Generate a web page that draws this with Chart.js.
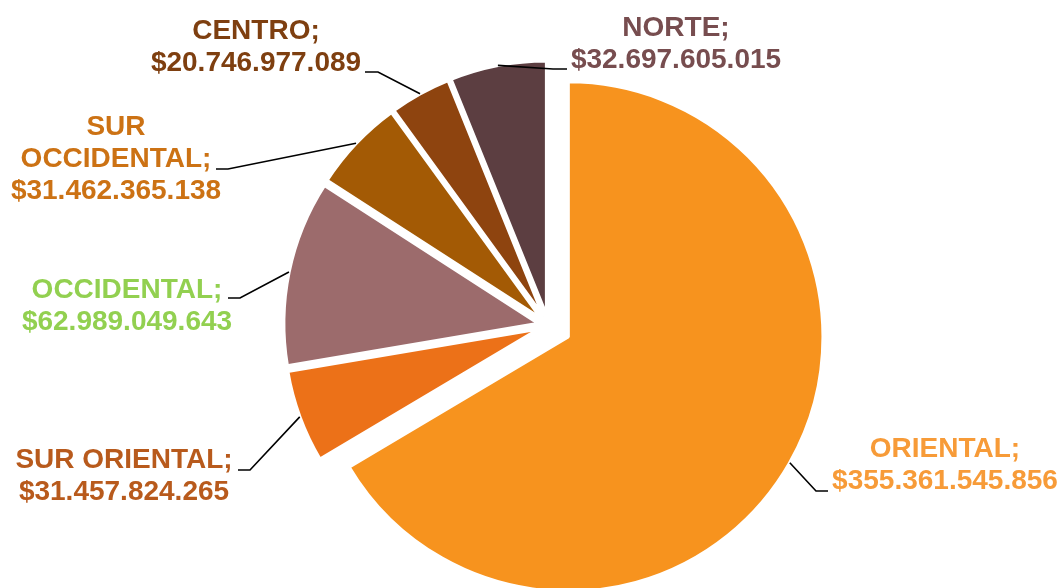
<!DOCTYPE html>
<html>
<head>
<meta charset="utf-8">
<script src="https://cdn.jsdelivr.net/npm/chart.js@4"></script>
<style>
  html, body { margin: 0; padding: 0; background: #fff; overflow: hidden; }
  #wrap { width: 1058px; height: 588px; }
</style>
</head>
<body>
<div id="wrap"><canvas id="myChart" width="1058" height="588"></canvas></div>
<script>
// data
const regions = ['ORIENTAL', 'SUR ORIENTAL', 'OCCIDENTAL', 'SUR OCCIDENTAL', 'CENTRO', 'NORTE'];
const amounts = [355361545856, 31457824265, 62989049643, 31462365138, 20746977089, 32697605015];

// styling
const sliceColors = ['#F7931E', '#EC7118', '#9C6B6C', '#A35A05', '#8E440F', '#5C3E41'];
const textColors = ['#F79B38', '#B85A1C', '#92D050', '#CC7214', '#7E3F10', '#774D4F'];
const explode = [22.6, 10, 10, 10, 10, 10]; // px each slice is pulled out

// where each label sits (first line centre) and where its leader line bends
const labelLayout = [
    {x: 945, y: 449, elbow: [816, 491], tail: [828, 491]},
    {x: 124, y: 460, elbow: [250, 470], tail: [238, 470]},
    {x: 127, y: 290, elbow: [240, 298], tail: [228, 298]},
    {x: 116, y: 127, elbow: [228, 169], tail: [216, 169], wrap: true},
    {x: 256, y: 31, elbow: [378, 72], tail: [365, 72]},
    {x: 676, y: 28, elbow: [553, 69], tail: [567, 69]}
];

function money(v) {
    return '$' + String(v).replace(/\B(?=(\d{3})+(?!\d))/g, '.');
}

// Excel-like explosion: move the whole slice along its mid angle
const explodePlugin = {
    id: 'explode',
    afterDatasetUpdate(chart, args) {
        args.meta.data.forEach((arc, i) => {
            const mid = (arc.startAngle + arc.endAngle) / 2;
            arc.x += Math.cos(mid) * explode[i];
            arc.y += Math.sin(mid) * explode[i];
        });
    }
};

const outsideLabels = {
    id: 'outsideLabels',
    afterDatasetsDraw(chart) {
        const ctx = chart.ctx;
        const meta = chart.getDatasetMeta(0);
        ctx.save();
        meta.data.forEach((arc, i) => {
            const lay = labelLayout[i];
            const mid = (arc.startAngle + arc.endAngle) / 2;
            const ax = arc.x + Math.cos(mid) * arc.outerRadius;
            const ay = arc.y + Math.sin(mid) * arc.outerRadius;

            ctx.strokeStyle = '#000';
            ctx.lineWidth = 1.6;
            ctx.beginPath();
            ctx.moveTo(ax, ay);
            ctx.lineTo(lay.elbow[0], lay.elbow[1]);
            ctx.lineTo(lay.tail[0], lay.tail[1]);
            ctx.stroke();

            let lines = lay.wrap ? regions[i].split(' ') : [regions[i]];
            lines[lines.length - 1] += ';';
            lines.push(money(chart.data.datasets[0].data[i]));

            ctx.fillStyle = textColors[i];
            ctx.font = 'bold 28px "Liberation Sans", Arial, sans-serif';
            ctx.textAlign = 'center';
            ctx.textBaseline = 'middle';
            lines.forEach((t, k) => ctx.fillText(t, lay.x, lay.y + k * 32));
        });
        ctx.restore();
    }
};

new Chart(document.getElementById('myChart'), {
    type: 'pie',
    data: {
        labels: regions,
        datasets: [{
            data: amounts,
            backgroundColor: sliceColors,
            borderColor: '#ffffff',
            borderWidth: 3.4,
            clip: false
        }]
    },
    options: {
        responsive: false,
        animation: false,
        events: [],
        radius: 255,
        layout: {padding: {left: 39, right: 0, top: 63, bottom: 0}},
        plugins: {
            legend: {display: false},
            tooltip: {enabled: false}
        }
    },
    plugins: [explodePlugin, outsideLabels]
});
</script>
</body>
</html>
